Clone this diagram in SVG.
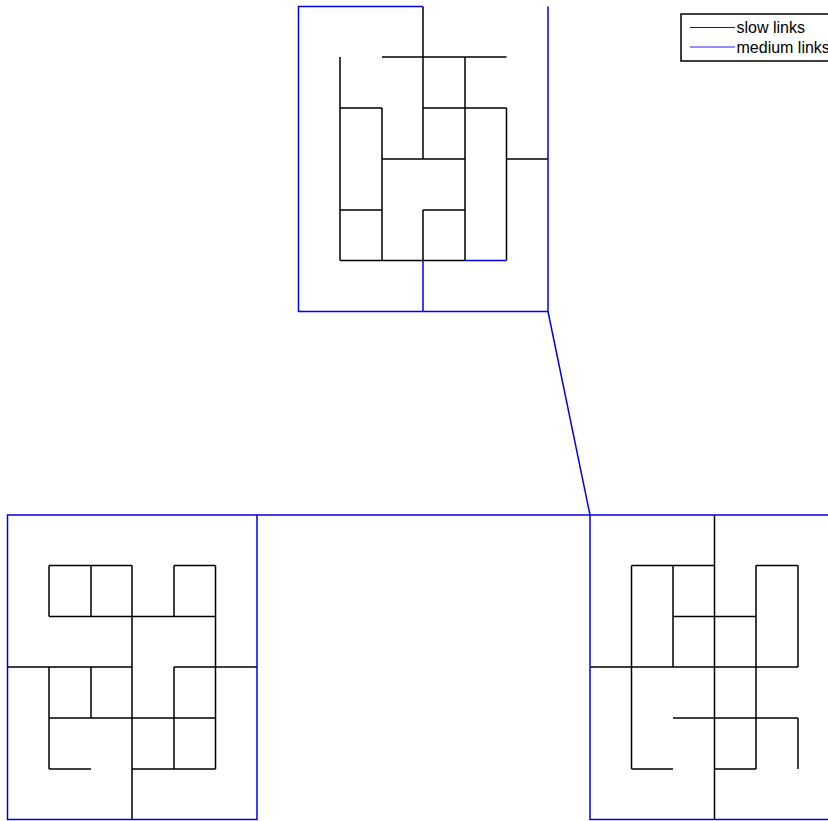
<svg xmlns="http://www.w3.org/2000/svg" width="828" height="821" viewBox="0 0 828 821">
<style>
.s{fill:none;stroke:#000;stroke-width:1.5}
.m{fill:none;stroke:#0000f0;stroke-width:1.5}
text{font-family:"Liberation Sans",Arial,sans-serif;font-size:16px;fill:#000}
</style>
<rect width="828" height="821" fill="#fff"/>
<g id="connectors">
<g id="cluster-top">
<path class="s" d="M423 6.500V159M382 57H506.500M340 57V260.500M340 108H382M382 108V260.500M423 108H506.500M465 57V260.500M506.500 108V260.500M382 159H465M506.500 159H548M340 210H382M423 210H465M423 210V260.500M340 260.500H465"/>
<path class="m" d="M423 6.500H298.500V311.500H548V6.500M423 260.500V311.500M465 260.500H506.500"/>
</g>
<g id="cluster-left">
<path class="s" d="M49 565.500H132M49 565.500V616.500M91 565.500V616.500M132 565.500V819.500M49 616.500H215.500M174 565.500H215.500M174 565.500V616.500M215.500 565.500V769M7.500 667H132M174 667H257M49 667V769M91 667V718M174 667V769M49 718H215.500M49 769H91M132 769H215.500"/>
<path class="m" d="M257 515H7.500V819.500H257V515"/>
</g>
<g id="cluster-right">
<path class="s" d="M714.500 515V819.500M631.500 565.500H714.500M631.500 565.500V769M673 565.500V667M673 616.500H756M756 565.500V769M756 565.500H798M798 565.500V667M590 667H798M673 718H798M798 718V769M631.500 769H673M714.500 769H756"/>
<path class="m" d="M828 515H590V819.500H828"/>
</g>
<path class="m" d="M548 311.500L590 515M257 515H590"/>
</g>
<g id="legend">
<rect x="681" y="14" width="160" height="47" fill="none" stroke="#000" stroke-width="1.500"/>
<line x1="690" y1="27.500" x2="735" y2="27.500" stroke="#222" stroke-width="1"/>
<line x1="690" y1="47" x2="735" y2="47" stroke="#2222f0" stroke-width="1"/>
<text x="736.500" y="33">slow links</text>
<text x="736.500" y="52.500">medium links</text>
</g>
</svg>
